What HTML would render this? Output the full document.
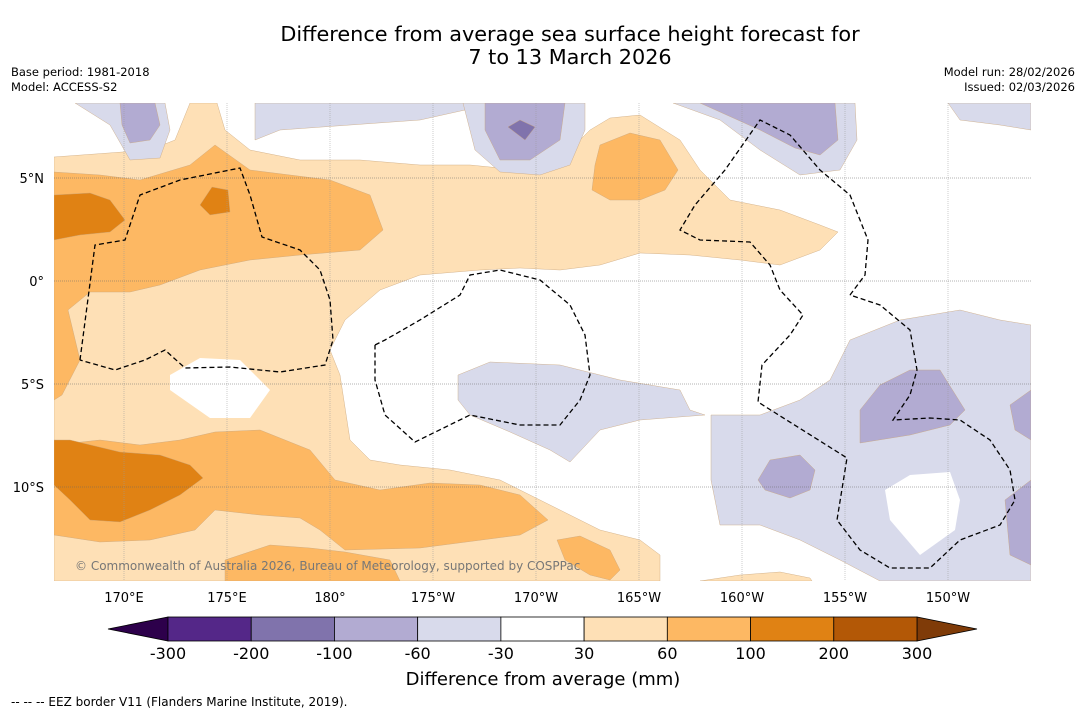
<!DOCTYPE html>
<html><head><meta charset="utf-8"><style>
body{margin:0;background:#fff;font-family:"Liberation Sans","DejaVu Sans",sans-serif;}
svg text{font-family:"DejaVu Sans","Liberation Sans",sans-serif;}
</style></head><body>
<svg id="chart" width="1085" height="713" viewBox="0 0 1085 713" xmlns="http://www.w3.org/2000/svg">
<text x="570" y="41" font-size="20.8" text-anchor="middle">Difference from average sea surface height forecast for</text>
<text x="570" y="64" font-size="20.8" text-anchor="middle">7 to 13 March 2026</text>
<text x="11" y="76" font-size="11.5">Base period: 1981-2018</text>
<text x="11" y="91" font-size="11.5">Model: ACCESS-S2</text>
<text x="1075" y="76" font-size="11.5" text-anchor="end">Model run: 28/02/2026</text>
<text x="1075" y="91" font-size="11.5" text-anchor="end">Issued: 02/03/2026</text>
<defs><clipPath id="mc"><rect x="54" y="103" width="977" height="478"/></clipPath></defs>
<g id="map" clip-path="url(#mc)">
<rect x="54" y="103" width="977" height="478" fill="#fff"/>
<g id="contours"></g>
<g id="grid"></g>
<g id="eez"></g>
</g>
<text x="75" y="570" font-size="12" fill="#777">© Commonwealth of Australia 2026, Bureau of Meteorology, supported by COSPPac</text>
<g id="axes"></g>
<g id="colorbar"></g>
<text x="543" y="685" font-size="18" text-anchor="middle">Difference from average (mm)</text>
<text x="11" y="706" font-size="12">-- -- -- EEZ border V11 (Flanders Marine Institute, 2019).</text>
</svg>
<script>
const lonTicks=[170,175,180,-175,-170,-165,-160,-155,-150];
const lonLabels=["170°E","175°E","180°","175°W","170°W","165°W","160°W","155°W","150°W"];
const latTicks=[5,0,-5,-10];
const latLabels=["5°N","0°","5°S","10°S"];
const levelLabels=["-300","-200","-100","-60","-30","30","60","100","200","300"];
const levelColors=["#542788","#8073ac","#b2abd2","#d8daeb","#ffffff","#fee0b6","#fdb863","#e08214","#b35806"];
const extendColors=["#2d004b","#7f3b08"];
const NS="http://www.w3.org/2000/svg";
function xLon(l){const e=l<0?l+360:l;return 124+(e-170)*20.6;}
function yLat(l){return 281-l*20.6;}
function mk(t,a,p){const e=document.createElementNS(NS,t);for(const k in a)e.setAttribute(k,a[k]);p.appendChild(e);return e;}
const C=document.getElementById('contours');
const polys=[
["light-orange-band","#fee0b6","54,157 150,150 175,140 190,103 217,103 225,130 250,150 300,160 360,160 420,165 470,165 520,170 560,160 590,130 610,118 640,115 680,140 700,170 730,200 780,210 820,225 838,232 820,250 780,265 740,260 690,255 640,253 600,265 560,270 520,268 480,270 420,275 380,290 345,320 330,350 340,375 350,440 370,460 400,465 450,470 500,480 550,505 600,530 640,540 660,555 660,581 54,581"],
["light-orange-bottom-right","#fee0b6","700,581 740,575 780,572 810,578 812,581"],
["white-hole-left","#ffffff","170,375 200,358 240,360 270,390 250,418 210,418 170,390"],
["orange-left","#fdb863","54,172 100,175 140,180 190,165 215,145 250,170 330,180 370,195 383,230 360,250 300,255 250,260 200,270 160,285 130,292 90,292 68,310 80,360 62,395 54,400"],
["orange-bottom","#fdb863","54,445 100,440 140,445 180,440 215,432 260,430 310,450 335,480 380,490 430,483 480,485 520,495 548,520 520,535 420,548 345,550 320,530 300,518 260,515 215,510 195,530 150,540 100,542 54,535"],
["orange-bottom-2","#fdb863","225,560 270,545 310,548 345,552 390,560 400,581 225,581"],
["orange-top-center","#fdb863","600,145 630,133 660,140 678,170 665,190 640,200 610,200 592,190 595,165"],
["orange-bottom-center","#fdb863","557,540 580,536 610,550 620,570 610,580 590,575 565,560"],
["dark-orange-top-left","#e08214","54,195 90,193 110,200 125,220 110,232 80,235 54,240"],
["dark-orange-small","#e08214","200,205 212,187 228,190 230,212 210,215"],
["dark-orange-bottom-left","#e08214","54,440 70,440 120,452 160,455 190,465 203,478 180,495 150,510 120,522 90,520 70,500 54,485"],
["lp-top-left","#d8daeb","75,103 165,103 170,130 160,158 130,160 110,125"],
["lp-top","#d8daeb","255,103 465,103 465,110 420,120 350,125 280,130 255,140"],
["lp-top-center","#d8daeb","463,103 585,103 585,130 570,165 540,175 500,172 475,150"],
["lp-top-right","#d8daeb","673,103 855,103 857,140 840,170 800,175 760,150 720,120"],
["lp-far-right","#d8daeb","948,103 1031,103 1031,130 1000,125 960,120"],
["lp-middle","#d8daeb","458,375 490,362 560,365 620,380 680,390 690,410 705,415 640,420 600,430 570,462 550,450 510,432 470,415 458,400"],
["lp-right","#d8daeb","711,415 760,415 800,400 830,380 850,340 900,320 960,310 1000,320 1031,325 1031,581 880,581 840,560 800,540 760,525 720,525 711,480"],
["white-hole-right","#ffffff","885,490 910,475 950,472 960,500 955,530 920,555 890,520"],
["mp-top-left","#b2abd2","120,103 155,103 160,125 150,140 130,143 122,125"],
["mp-top-center","#b2abd2","485,103 565,103 560,140 530,160 500,160 485,130"],
["mp-top-right","#b2abd2","700,103 835,103 838,140 820,155 795,148 760,130 720,112"],
["mp-right","#b2abd2","860,410 880,385 910,370 940,370 965,410 950,425 910,435 860,443"],
["mp-right-small","#b2abd2","758,480 770,460 800,455 815,470 810,490 790,498 765,490"],
["mp-far-right-1","#b2abd2","1010,405 1031,390 1031,440 1015,430"],
["mp-far-right-2","#b2abd2","1005,500 1031,480 1031,565 1010,555"],
["dp-top-center","#8073ac","508,127 520,120 535,127 525,140"]];
polys.forEach(p=>{const e=mk('polygon',{points:p[2],fill:p[1],stroke:p[1]==="#ffffff"?"none":"#c9a47a","stroke-width":0.4},C);

});
const G=document.getElementById('grid');
lonTicks.forEach(l=>{const e=mk('line',{x1:xLon(l),x2:xLon(l),y1:103,y2:581,stroke:"#999","stroke-width":0.5,"stroke-dasharray":"1,1"},G);

});
latTicks.forEach(l=>{const e=mk('line',{x1:54,x2:1031,y1:yLat(l),y2:yLat(l),stroke:"#666","stroke-width":0.5,"stroke-dasharray":"1,1"},G);

});
const E=document.getElementById('eez');
const eez=[
"80,360 95,245 125,240 140,195 180,180 240,168 250,195 262,237 300,250 320,270 330,300 333,340 325,365 280,372 230,367 185,368 165,350 145,360 115,370 80,360",
"375,345 385,340 420,320 460,295 470,275 500,270 540,280 570,305 585,335 590,375 580,400 560,425 520,425 470,415 415,442 385,415 375,380 375,345",
"850,295 865,275 868,240 850,195 820,170 790,135 760,120 725,170 695,205 680,230 700,240 750,242 770,265 780,290 803,315 790,335 762,365 758,402 847,458 837,520 860,550 890,568 930,568 960,540 1000,525 1015,500 1010,470 990,440 960,420 930,418 893,420 910,395 917,370 910,330 880,305 850,295"];
eez.forEach(p=>{const e=mk('polyline',{points:p,fill:"none",stroke:"#000","stroke-width":1.3,"stroke-dasharray":"5,3"},E);

});
const A=document.getElementById('axes');
lonTicks.forEach((l,i)=>{const e=mk('text',{x:xLon(l),y:602,"font-size":13,"text-anchor":"middle"},A);e.textContent=lonLabels[i];

});
latTicks.forEach((l,i)=>{const e=mk('text',{x:44,y:yLat(l)+5,"font-size":13,"text-anchor":"end"},A);e.textContent=latLabels[i];

});
const B=document.getElementById('colorbar');
const x0=168,x1=917,w=(x1-x0)/levelColors.length,yt=617,h=24;
let t=mk('polygon',{points:`108,${yt+h/2} ${x0},${yt} ${x0},${yt+h}`,fill:extendColors[0],stroke:"#000","stroke-width":0.8},B);


t=mk('polygon',{points:`977,${yt+h/2} ${x1},${yt} ${x1},${yt+h}`,fill:extendColors[1],stroke:"#000","stroke-width":0.8},B);


levelColors.forEach((c,i)=>{const e=mk('rect',{x:x0+i*w,y:yt,width:w,height:h,fill:c,stroke:"#000","stroke-width":0.8},B);

});
levelLabels.forEach((s,i)=>{const e=mk('text',{x:x0+i*w,y:659,"font-size":16,"text-anchor":"middle"},B);e.textContent=s;

});
</script>
</body></html>
